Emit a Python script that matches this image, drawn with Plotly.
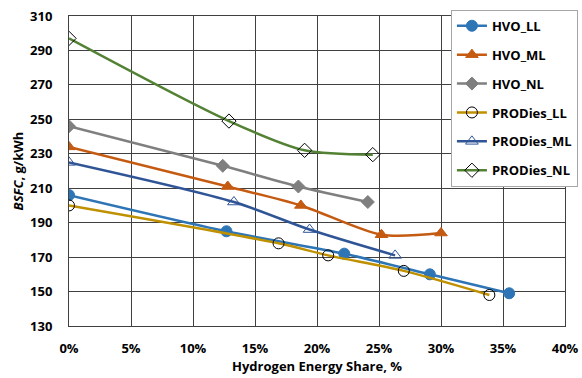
import plotly.graph_objects as go

hvo_ll_x = [0, 12.7, 22.2, 29.1, 35.5]
hvo_ll_y = [206, 185, 172, 160, 149]
hvo_ml_x = [0, 12.8, 18.7, 25.2, 30.0]
hvo_ml_y = [234, 211, 200, 183, 184]
hvo_nl_x = [0, 12.4, 18.5, 24.1]
hvo_nl_y = [246, 223, 211, 202]
pro_ll_x = [0, 16.9, 20.9, 27.0, 33.9]
pro_ll_y = [200, 178, 171, 162, 148]
pro_ml_x = [0, 13.3, 19.4, 26.3]
pro_ml_y = [225, 202, 186, 171]
pro_nl_x = [0, 12.9, 19.0, 24.5]
pro_nl_y = [297, 249, 232, 229.5]

series = [
    ("HVO_LL", hvo_ll_x, hvo_ll_y, "#2E75B6", "circle", "#2E75B6", "#2E75B6", 11),
    ("HVO_ML", hvo_ml_x, hvo_ml_y, "#C55A11", "triangle-up", "#C55A11", "#C55A11", 11),
    ("HVO_NL", hvo_nl_x, hvo_nl_y, "#7F7F7F", "diamond", "#7F7F7F", "#7F7F7F", 10),
    ("PRODies_LL", pro_ll_x, pro_ll_y, "#BF9000", "circle-open", "#000000", "#000000", 11),
    ("PRODies_ML", pro_ml_x, pro_ml_y, "#2F5597", "triangle-up-open", "#2F5597", "#2F5597", 11),
    ("PRODies_NL", pro_nl_x, pro_nl_y, "#548235", "diamond-open", "#000000", "#000000", 11),
]

fig = go.Figure()
for i, (name, xs, ys, lc, sym, mc, mlc, ms) in enumerate(series):
    fig.add_trace(go.Scatter(
        x=[v / 100 for v in xs], y=ys, name=f"<b>{name}</b>", mode="lines+markers",
        line=dict(color=lc, width=2.5, shape="spline", smoothing=0.8),
        marker=dict(symbol=sym, color=mc, size=ms, line=dict(color=mlc, width=1)),
        legendgroup=f"g{i}",
    ))

fig.update_layout(
    width=582, height=378,
    margin=dict(l=69, r=17, t=16, b=52, autoexpand=False),
    paper_bgcolor="white", plot_bgcolor="white",
    font=dict(family="Open Sans", size=13, color="#000000"),
    showlegend=True,
    legend=dict(
        x=0.77, y=1.02, xanchor="left", yanchor="top",
        bgcolor="white", bordercolor="#A6A6A6", borderwidth=1,
        font=dict(family="Open Sans", size=13, color="#000000"),
        tracegroupgap=9, traceorder="grouped",
    ),
    xaxis=dict(
        range=[0, 0.40], dtick=0.05, tickformat=".0%",
        showgrid=True, gridcolor="#404040", gridwidth=1,
        showline=True, linecolor="#404040", mirror=True,
        zeroline=False, ticks="outside", ticklen=10, tickcolor="rgba(0,0,0,0)",
        tickprefix="<b>", ticksuffix="</b>",
        tickfont=dict(family="Open Sans", size=13, color="#000000"),
        title=dict(text="<b>Hydrogen Energy Share, %</b>", standoff=3,
                   font=dict(family="Open Sans", size=13)),
    ),
    yaxis=dict(
        range=[130, 310], tick0=130, dtick=20,
        showgrid=True, gridcolor="#404040", gridwidth=1,
        showline=True, linecolor="#404040", mirror=True,
        zeroline=False, ticks="outside", ticklen=13, tickcolor="rgba(0,0,0,0)",
        tickprefix="<b>", ticksuffix="</b>",
        tickfont=dict(family="Open Sans", size=13, color="#000000"),
        title=dict(text="<b><i>BSFC</i>, g/kWh</b>", standoff=3,
                   font=dict(family="Open Sans", size=13)),
    ),
)

fig.write_html("out.html")
